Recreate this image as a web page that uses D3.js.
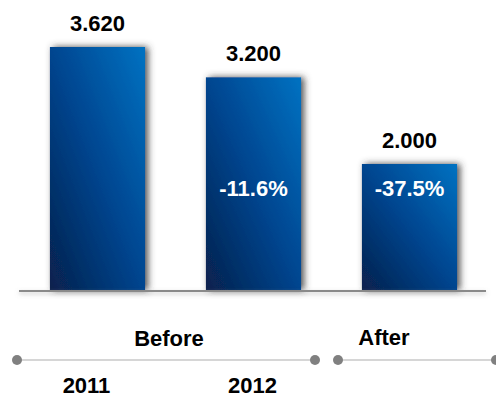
<!DOCTYPE html>
<html><head><meta charset="utf-8">
<script src="https://cdn.jsdelivr.net/npm/d3@7"></script>
<style>html,body{margin:0;padding:0;background:#fff;}svg{display:block;font-family:"Liberation Sans",Arial,sans-serif;}</style>
</head><body>
<svg id="c" width="496" height="398"></svg>
<script>
const categories = ["2011", "2012", "After"];
const values = [3620, 3200, 2000];
const valueLabels = ["3.620", "3.200", "2.000"];
const changeLabels = ["", "-11.6%", "-37.5%"];
const yearLabels = ["2011", "2012"];
const groupLabels = ["Before", "After"];

const svg = d3.select("#c");
const baseY = 290;

const x = d3.scaleBand().domain(categories).range([19.5, 487.5]).paddingInner(0.39).paddingOuter(0.195);
const y = d3.scaleLinear().domain([255, 3620]).range([baseY, 47]);

const defs = svg.append("defs");
const g = defs.append("linearGradient").attr("id","barGrad").attr("x1","0").attr("y1","1").attr("x2","1").attr("y2","0");
g.append("stop").attr("offset","0").attr("stop-color","#08214d");
g.append("stop").attr("offset","0.5").attr("stop-color","#00458f");
g.append("stop").attr("offset","1").attr("stop-color","#0072c2");

const f = defs.append("filter").attr("id","shadow").attr("x","-30%").attr("y","-30%").attr("width","160%").attr("height","160%");
f.append("feDropShadow").attr("dx",3).attr("dy",0).attr("stdDeviation",3.5).attr("flood-color","#3a3a3a").attr("flood-opacity",0.9);

const f2 = defs.append("filter").attr("id","lshadow").attr("filterUnits","userSpaceOnUse")
  .attr("x",0).attr("y",280).attr("width",496).attr("height",30);
f2.append("feDropShadow").attr("dx",0).attr("dy",2).attr("stdDeviation",2).attr("flood-color","#888").attr("flood-opacity",0.5);

svg.selectAll("rect.bar").data(values).join("rect")
  .attr("class","bar")
  .attr("x",(d,i)=>x(categories[i]))
  .attr("y",d=>y(d))
  .attr("width",x.bandwidth())
  .attr("height",d=>baseY - y(d))
  .attr("fill","url(#barGrad)")
  .attr("filter","url(#shadow)");

// baseline
svg.append("rect").attr("x",19).attr("width",467).attr("y",baseY).attr("height",2)
  .attr("fill","#8a8a8a").attr("filter","url(#lshadow)");

// value labels
svg.selectAll("text.val").data(values).join("text")
  .attr("class","val")
  .attr("x",(d,i)=>x(categories[i])+x.bandwidth()/2)
  .attr("y",d=>y(d)-16)
  .attr("text-anchor","middle")
  .attr("font-size",22).attr("font-weight","bold").attr("fill","#000")
  .text((d,i)=>valueLabels[i]);

// change labels
svg.selectAll("text.chg").data(changeLabels).join("text")
  .attr("class","chg")
  .attr("x",(d,i)=>x(categories[i])+x.bandwidth()/2)
  .attr("y",196)
  .attr("text-anchor","middle")
  .attr("font-size",22).attr("font-weight","bold").attr("fill","#fff")
  .text(d=>d);

// timeline
const segs = [[17, 315], [338, 496]];
const tl = svg.append("g");
segs.forEach(s=>{
  tl.append("line").attr("x1",s[0]).attr("x2",s[1]).attr("y1",360).attr("y2",360)
    .attr("stroke","#c8c8c8").attr("stroke-width",1.5);
  s.forEach(px=>tl.append("circle").attr("cx",px).attr("cy",360).attr("r",5).attr("fill","#808080"));
});

const groupX = [169, 384];
const groupY = [346, 345];
svg.selectAll("text.grp").data(groupLabels).join("text")
  .attr("class","grp")
  .attr("x",(d,i)=>groupX[i]).attr("y",(d,i)=>groupY[i])
  .attr("text-anchor","middle")
  .attr("font-size",22).attr("font-weight","bold").attr("fill","#000")
  .text(d=>d);

const yearX = [x(categories[0])+x.bandwidth()/2-11, x(categories[1])+x.bandwidth()/2-1];
svg.selectAll("text.yr").data(yearLabels).join("text")
  .attr("class","yr")
  .attr("x",(d,i)=>yearX[i]).attr("y",393)
  .attr("text-anchor","middle")
  .attr("font-size",22).attr("font-weight","bold").attr("fill","#000")
  .text(d=>d);
</script>
</body></html>
